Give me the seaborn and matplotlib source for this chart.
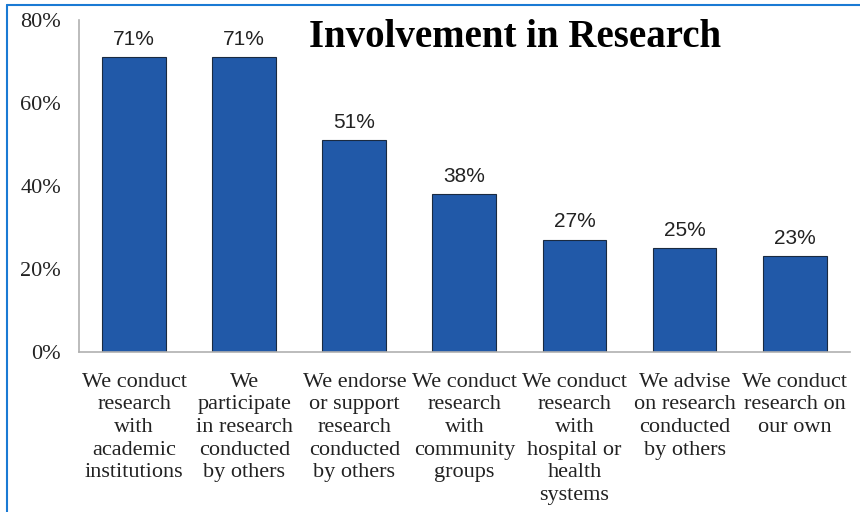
import matplotlib
matplotlib.use("Agg")
import matplotlib.pyplot as plt
import seaborn as sns
import pandas as pd
from matplotlib.lines import Line2D

categories = [
    "We conduct\nresearch\nwith\nacademic\ninstitutions",
    "We\nparticipate\nin research\nconducted\nby others",
    "We endorse\nor support\nresearch\nconducted\nby others",
    "We conduct\nresearch\nwith\ncommunity\ngroups",
    "We conduct\nresearch\nwith\nhospital or\nhealth\nsystems",
    "We advise\non research\nconducted\nby others",
    "We conduct\nresearch on\nour own",
]
values = [71, 71, 51, 38, 27, 25, 23]
yticks = [0, 20, 40, 60, 80]
title = "Involvement in Research"

df = pd.DataFrame({"cat": categories, "val": values})

sns.set_style("white")
fig = plt.figure(figsize=(8.6, 5.12), dpi=100)
ax = fig.add_axes([0.092, 0.3125, 0.896, 0.649])

sns.barplot(data=df, x="cat", y="val", color="#2159A8", width=0.58,
            edgecolor="#1a2a40", linewidth=0.8, ax=ax, saturation=1)

ax.set_ylim(0, 80)
ax.set_yticks(yticks)
ax.set_yticklabels([f"{t}%" for t in yticks], fontsize=16, family="Liberation Serif", color="#222222")
ax.set_xlabel("")
ax.set_ylabel("")
ax.tick_params(axis="x", length=0, pad=15)
ax.tick_params(axis="y", length=0, pad=13)
for lab in ax.get_xticklabels():
    lab.set_fontfamily("Liberation Serif")
    lab.set_fontsize(16)
    lab.set_color("#222222")
    lab.set_linespacing(1.26)

for side in ["top", "right"]:
    ax.spines[side].set_visible(False)
for side in ["left", "bottom"]:
    ax.spines[side].set_color("#b0b0b0")
    ax.spines[side].set_linewidth(1.2)

for p, v in zip(ax.patches, values):
    ax.annotate(f"{v}%", (p.get_x() + p.get_width() / 2, v), xytext=(0, 13),
                textcoords="offset points", ha="center", va="center",
                fontsize=15, family="Liberation Sans", color="#222222")

fig.text(0.599, 0.926, title, ha="center", va="center", fontsize=28,
         fontweight="bold", family="Liberation Serif", color="black")

# blue frame lines (top and left)
fig.add_artist(Line2D([0.008, 1.0], [0.99, 0.99], transform=fig.transFigure, color="#1a7ad4", lw=1.5))
fig.add_artist(Line2D([0.008, 0.008], [0.0, 0.99], transform=fig.transFigure, color="#1a7ad4", lw=1.5))

fig.savefig("out.png", dpi=100)
